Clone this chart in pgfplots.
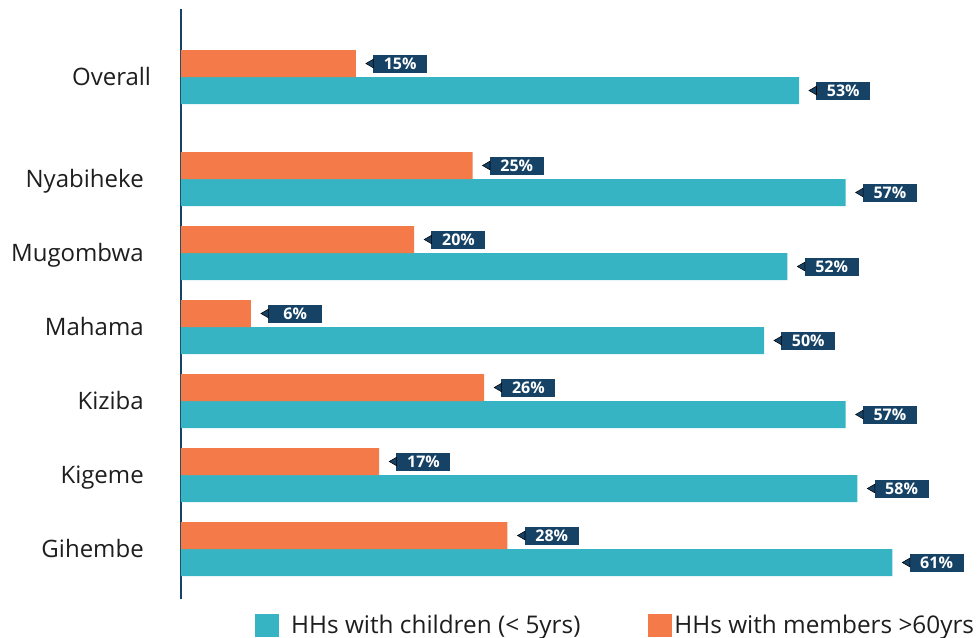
\documentclass[border=0pt]{standalone}
\usepackage{pgfplots}
\pgfplotsset{compat=1.18}
\usepackage{fontspec}
\setmainfont{Open Sans}

\definecolor{barteal}{RGB}{55,180,196}
\definecolor{barorange}{RGB}{245,122,74}
\definecolor{tagnavy}{RGB}{22,66,102}
\definecolor{labelink}{RGB}{30,30,30}

\pgfplotstableread{
pos  children  elderly
0    61        28
1    58        17
2    57        26
3    50        6
4    52        20
5    57        25
6.378 53       15
}\hhdata

\begin{document}
\begin{tikzpicture}
\path[use as bounding box] (-135.75pt,-28.5pt) rectangle (597.75pt,449.25pt);
\begin{axis}[
  at={(0pt,0pt)}, anchor=south west,
  scale only axis, width=597.75pt, height=442.5pt,
  xbar, bar width=20.25pt,
  xmin=0, xmax=68.35, ymin=-0.6757, ymax=7.2973,
  axis x line=none,
  axis y line=left,
  y axis line style={-, draw=tagnavy, line width=2.2pt},
  ytick={0,1,2,3,4,5,6.378},
  yticklabels={Gihembe,Kigeme,Kiziba,Mahama,Mugombwa,Nyabiheke,Overall\kern-5.5pt},
  major tick length=0pt,
  yticklabel style={font=\fontsize{18}{20}\selectfont, text=labelink, inner sep=0pt,
    text height=12.85pt, text depth=0pt, anchor=east, xshift=-27.75pt},
  clip=false,
  /pgf/number format/assume math mode=true,
  % value tags: navy box placed just right of each bar
  tag/.style={point meta=x,
    nodes near coords={\pgfmathprintnumber{\pgfplotspointmeta}\%},
    nodes near coords style={anchor=west, xshift=12.75pt,
      fill=tagnavy, text=white, font=\bfseries\fontsize{12}{12}\selectfont,
      minimum width=40.5pt, minimum height=13.5pt, inner sep=0pt}},
  % small arrowhead of each tag, pointing back at the bar
  arrowhead/.style={sharp plot, draw=none, forget plot, mark=triangle*, mark size=3.75pt,
    mark options={xshift=11.25pt, yshift=#1, rotate=90, fill=tagnavy, draw=none}},
  legend columns=2,
  legend style={draw=none, fill=none, inner sep=0pt, at={(0.0928,-0.0449)}, anchor=west,
    font=\fontsize{18.25}{20}\selectfont, text=labelink,
    /tikz/every even column/.append style={column sep=49pt}},
  legend image code/.code={\fill[#1] (0pt,-8.625pt) rectangle (17.5pt,8.625pt);},
]
% households with young children
\addplot[fill=barteal, draw=none, bar shift=-10.125pt, tag]
  table[x=children, y=pos] {\hhdata};
% households with elderly members
\addplot[fill=barorange, draw=none, bar shift=10.125pt, tag]
  table[x=elderly, y=pos] {\hhdata};
\addplot[arrowhead=-10.125pt] table[x=children, y=pos] {\hhdata};
\addplot[arrowhead=10.125pt] table[x=elderly, y=pos] {\hhdata};
\legend{\hspace{7.5pt}HHs with children (< 5yrs), HHs with members >60yrs}
\end{axis}
\end{tikzpicture}
\end{document}
